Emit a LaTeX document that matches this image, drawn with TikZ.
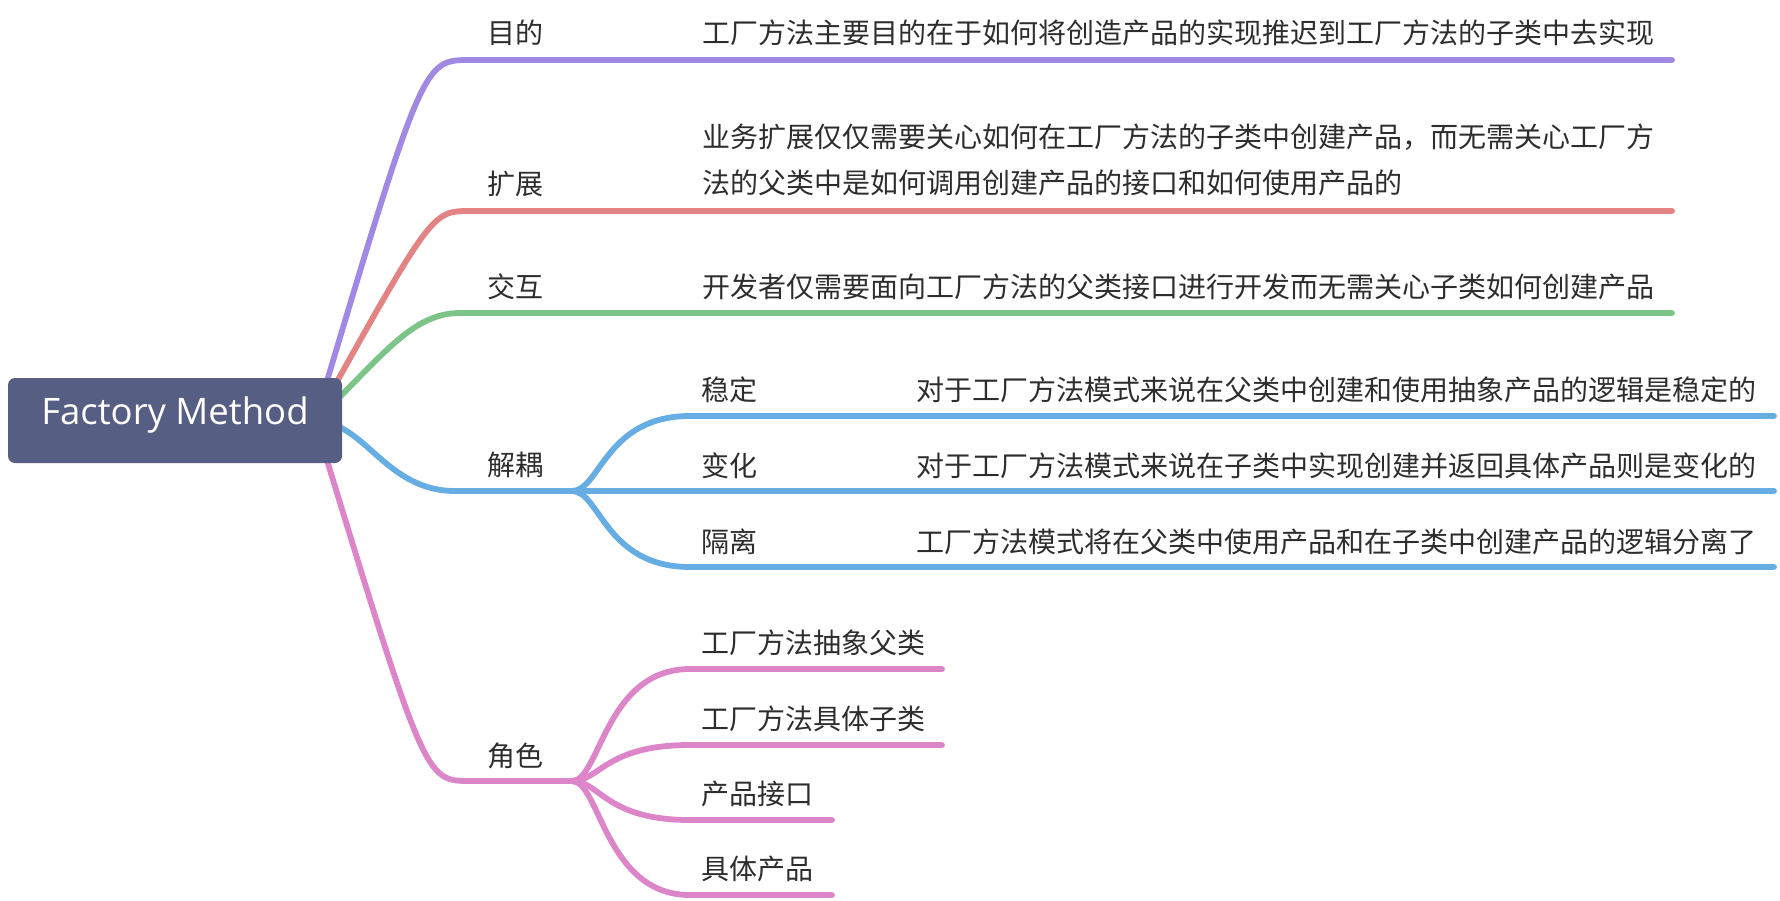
\documentclass[tikz,border=0pt]{standalone}
\usepackage{fontspec}
\setmainfont{Noto Sans CJK SC}
\newfontfamily\rootfont{Open Sans}
\usetikzlibrary{backgrounds}
\definecolor{rootblue}{RGB}{87,94,132}
\definecolor{mmpurple}{RGB}{160,137,226}
\definecolor{mmred}{RGB}{228,131,131}
\definecolor{mmgreen}{RGB}{124,196,136}
\definecolor{mmblue}{RGB}{102,173,228}
\definecolor{mmpink}{RGB}{221,133,201}
\definecolor{mmtext}{RGB}{45,45,45}
\tikzset{
  rootbox/.style={fill=rootblue, rounded corners=7pt, minimum width=334pt, minimum height=85pt,
    text=white, text height=0.9em, text depth=0.2em, font=\rootfont\fontsize{36.5}{40}\selectfont},
  topic/.style={anchor=west, inner sep=0pt, text=mmtext, font=\fontsize{28}{46}\selectfont},
  branch/.style={line width=5.8pt, line cap=round},
}
\begin{document}
\begin{tikzpicture}[x=1pt, y=-1pt]
\useasboundingbox (0,0) rectangle (1780,900);
% Root
\node[rootbox] (root) at (175,420.5) {Factory Method};
% Main topics with notes
\node[topic] (goal) at (487,33) {目的};
\node[topic] (goalnote) at (702,33) {工厂方法主要目的在于如何将创造产品的实现推迟到工厂方法的子类中去实现};
\node[topic] (extend) at (487,184) {扩展};
\node[topic, align=left] (extendnote) at (702,159.6) {业务扩展仅仅需要关心如何在工厂方法的子类中创建产品，而无需关心工厂方\\法的父类中是如何调用创建产品的接口和如何使用产品的};
\node[topic] (interact) at (487,286.5) {交互};
\node[topic] (interactnote) at (702,286.5) {开发者仅需要面向工厂方法的父类接口进行开发而无需关心子类如何创建产品};
\node[topic] (decouple) at (487,464.5) {解耦};
\node[topic] (role) at (487,755.5) {角色};
% Decoupling
\node[topic] (stable) at (701,390) {稳定};
\node[topic] (stablenote) at (916,390) {对于工厂方法模式来说在父类中创建和使用抽象产品的逻辑是稳定的};
\node[topic] (change) at (701,466) {变化};
\node[topic] (changenote) at (916,466) {对于工厂方法模式来说在子类中实现创建并返回具体产品则是变化的};
\node[topic] (isolate) at (701,542) {隔离};
\node[topic] (isolatenote) at (916,542) {工厂方法模式将在父类中使用产品和在子类中创建产品的逻辑分离了};
% Roles
\node[topic] (abstract) at (701,643) {工厂方法抽象父类};
\node[topic] (concrete) at (701,719) {工厂方法具体子类};
\node[topic] (product) at (701,794) {产品接口};
\node[topic] (realproduct) at (701,869) {具体产品};
% Branch points
\coordinate (hub) at (315,421);
\coordinate (goalend) at (1672,60);
\coordinate (extendend) at (1672,211);
\coordinate (interactend) at (1672,313);
\coordinate (decouplefork) at (572,491);
\coordinate (rolefork) at (572,781);
\begin{scope}[on background layer]
\draw[branch, mmpurple] (hub) .. controls (423,60) .. (470,60) -- (goalend);
\draw[branch, mmred] (hub) .. controls (432,211) .. (470,211) -- (extendend);
\draw[branch, mmgreen] (hub) .. controls (380,360) and (410,313) .. (460,313) -- (interactend);
\draw[branch, mmblue] (hub) .. controls (365,421) and (385,491) .. (455,491) -- (decouplefork);
\draw[branch, mmpink] (hub) .. controls (425,781) .. (470,781) -- (rolefork);
% Sub branches
\foreach \y in {416,567}
  \draw[branch, mmblue] (decouplefork) .. controls (600,491) and (605,\y) .. (690,\y) -- (1774,\y);
\draw[branch, mmblue] (decouplefork) -- (1774,491);
\foreach \y/\e in {669/942, 745/942, 820/832, 895/832}
  \draw[branch, mmpink] (rolefork) .. controls (600,781) and (605,\y) .. (690,\y) -- (\e,\y);
\end{scope}
\end{tikzpicture}
\end{document}
